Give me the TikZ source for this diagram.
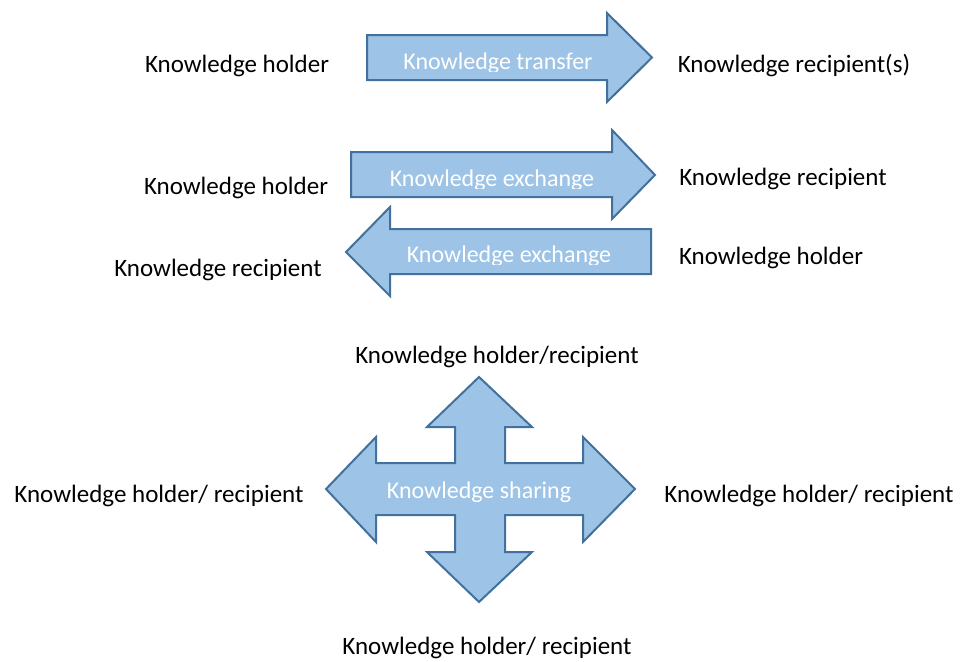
\documentclass[tikz,border=0pt]{standalone}
\usepackage{fontspec}
\setmainfont{Carlito}
\usetikzlibrary{positioning}
\definecolor{arrowfill}{RGB}{157,195,230}
\definecolor{arrowline}{RGB}{65,113,156}

\begin{document}
\begin{tikzpicture}[x=0.75pt, y=-0.75pt]
    \tikzset{
        party/.style = {anchor=base, inner sep=0pt, text=black, font=\fontsize{18.75}{22}\selectfont},
        shapetext/.style = {anchor=base, inner sep=0pt, text=white, font=\fontsize{18}{22}\selectfont},
        bluearrow/.style = {fill=arrowfill, draw=arrowline, line width=1.5pt, line join=miter}
    }
    \useasboundingbox (0,0) rectangle (961,661);

    % transfer
    \draw [bluearrow] (367,35) -- (607,35) -- (607,13) -- (652,57.5) -- (607,102) -- (607,80) -- (367,80) -- cycle;
    \begin{scope}
        \clip (367,35) rectangle (607,71);
        \node (transfer) [shapetext] at (498,69) {Knowledge transfer};
    \end{scope}
    \node (holderA) [party] at (237,72) {Knowledge holder};
    \node (recipientA) [party] at (794,72) {Knowledge recipient(s)};

    % exchange
    \draw [bluearrow] (351,152) -- (612,152) -- (612,130) -- (655,175) -- (612,219) -- (612,197) -- (351,197) -- cycle;
    \draw [bluearrow] (651,229) -- (390,229) -- (390,207) -- (346,252) -- (390,296) -- (390,274) -- (651,274) -- cycle;
    \begin{scope}
        \clip (351,152) rectangle (612,188);
        \node (exchangeA) [shapetext] at (492,186) {Knowledge exchange};
    \end{scope}
    \begin{scope}
        \clip (390,229) rectangle (651,264);
        \node (exchangeB) [shapetext] at (509,262) {Knowledge exchange};
    \end{scope}
    \node (holderB) [party] at (236,194) {Knowledge holder};
    \node (recipientB) [party] at (783,185) {Knowledge recipient};
    \node (recipientC) [party] at (218,276) {Knowledge recipient};
    \node (holderC) [party] at (771,264) {Knowledge holder};

    % sharing
    \draw [bluearrow] (479,377) -- (532,427) -- (505,427) -- (505,463) -- (583,463) -- (583,437) -- (635,489)
        -- (583,542) -- (583,515) -- (505,515) -- (505,552) -- (532,552) -- (479,602) -- (427,552)
        -- (455,552) -- (455,515) -- (376,515) -- (376,542) -- (326,489) -- (376,437) -- (376,463)
        -- (455,463) -- (455,427) -- (427,427) -- cycle;
    \node (sharing) [shapetext] at (479,498) {Knowledge sharing};
    \node (northparty) [party] at (497,363) {Knowledge holder/recipient};
    \node (westparty) [party] at (159,502) {Knowledge holder/ recipient};
    \node (eastparty) [party] at (809,502) {Knowledge holder/ recipient};
    \node (southparty) [party] at (487,654) {Knowledge holder/ recipient};
\end{tikzpicture}
\end{document}
